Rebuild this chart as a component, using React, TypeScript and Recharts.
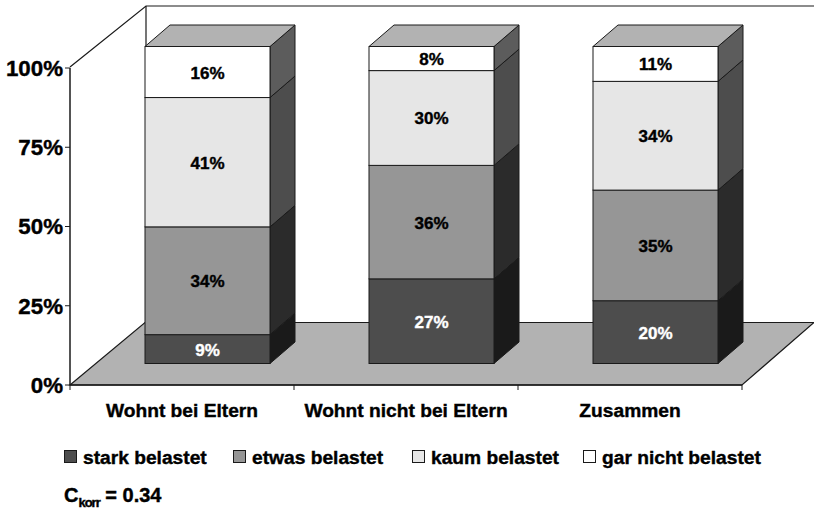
import { BarChart, Bar, XAxis, YAxis, Legend, LabelList } from 'recharts';

const CATEGORIES = ['Wohnt bei Eltern', 'Wohnt nicht bei Eltern', 'Zusammen'];
const STARK = [9.1, 26.7, 19.8];
const ETWAS = [34, 35.8, 34.9];
const KAUM = [40.8, 29.9, 34.3];
const GAR = [16.1, 7.6, 11];
const Y_TICKS = [0, 25, 50, 75, 100];
const SERIES_NAMES = ['stark belastet', 'etwas belastet', 'kaum belastet', 'gar nicht belastet'];
const FRONT_COLORS = ['#4d4d4d', '#969696', '#e6e6e6', '#ffffff'];
const SIDE_COLORS = ['#1a1a1a', '#2b2b2b', '#4d4d4d', '#5c5c5c'];

const tableData = CATEGORIES.map((name, i) => ({
    name,
    stark: STARK[i],
    etwas: ETWAS[i],
    kaum: KAUM[i],
    gar: GAR[i],
}));

const FONT = '"Liberation Sans", Arial, sans-serif';
const LINE = '#1a1a1a';
// 3D depth of the bars, Excel style
const DX = 25;
const DY = 21.5;
const LEGEND_X = [64, 233, 412, 583];

function Bar3D(props: any) {
    const { x, y, width, height, fill, side, isTop } = props;
    const r = x + DX + width;
    const fx = x + DX;
    const fy = y - DY;
    return (
        <g stroke={LINE} strokeWidth={1}>
            <polygon points={`${r},${fy} ${r + DX},${fy - DY} ${r + DX},${fy - DY + height} ${r},${fy + height}`} fill={side} />
            {isTop && (
                <polygon points={`${fx},${fy} ${fx + DX},${fy - DY} ${r + DX},${fy - DY} ${r},${fy}`} fill="#b2b2b2" />
            )}
            <rect x={fx} y={fy} width={width} height={height} fill={fill} />
        </g>
    );
}

function percentLabel(color: string) {
    return (props: any) => {
        const { x, y, width, height, value } = props;
        return (
            <text
                x={x + DX + width / 2}
                y={y - DY + height / 2 + 6.5}
                textAnchor="middle"
                fontFamily={FONT}
                fontWeight="bold"
                fontSize={17}
                fill={color}
                stroke={color}
                strokeWidth={0.4}
            >
                {Math.round(value)}%
            </text>
        );
    };
}

// tick marks sit between the categories, the label stays centred
function CategoryTick(props: any) {
    const { x, y, width, payload, index } = props;
    const band = width / CATEGORIES.length;
    const left = x - band / 2;
    const right = x + band / 2;
    return (
        <g>
            <line x1={left} y1={y} x2={left} y2={y + 5} stroke={LINE} />
            {index === CATEGORIES.length - 1 && <line x1={right} y1={y} x2={right} y2={y + 5} stroke={LINE} />}
            <text
                x={x}
                y={y + 32}
                textAnchor="middle"
                fontFamily={FONT}
                fontWeight="bold"
                fontSize={19.2}
                fill="#000"
                stroke="#000"
                strokeWidth={0.4}
            >
                {payload.value}
            </text>
        </g>
    );
}

function LegendRow(props: any) {
    const payload = [...props.payload].sort(
        (a: any, b: any) => SERIES_NAMES.indexOf(a.value) - SERIES_NAMES.indexOf(b.value)
    );
    return (
        <div style={{ position: 'relative', height: 24, width: 814 }}>
            {payload.map((entry: any, i: number) => (
                <div
                    key={entry.value}
                    style={{ position: 'absolute', left: LEGEND_X[i], top: 0, whiteSpace: 'nowrap', fontFamily: FONT, fontWeight: 'bold', fontSize: 19.2, lineHeight: '24px', color: '#000', WebkitTextStroke: '0.4px #000' }}
                >
                    <span style={{ display: 'inline-block', width: 11, height: 11, background: entry.color, border: `1px solid ${LINE}`, marginRight: 6, verticalAlign: '1px' }} />
                    {entry.value}
                </div>
            ))}
        </div>
    );
}

export default function App() {
    return (
        <div style={{ position: 'absolute', left: 0, top: 0, width: 814, height: 509, background: '#fff', overflow: 'hidden' }}>
            <BarChart
                width={814}
                height={509}
                data={tableData}
                margin={{ top: 68, right: 72, bottom: 0, left: 0 }}
                barSize={125}
            >
                {/* floor and walls */}
                <polygon points="70,385 145,322.5 814,322.5 742,385" fill="#b2b2b2" stroke={LINE} strokeWidth={1.2} />
                <polyline points="70,67 146,6 814,6" fill="none" stroke={LINE} strokeWidth={1.2} />
                <line x1={146} y1={6} x2={146} y2={322} stroke={LINE} strokeWidth={1.2} />

                <XAxis
                    dataKey="name"
                    height={100}
                    interval={0}
                    axisLine={{ stroke: LINE, strokeWidth: 1.5 }}
                    tickLine={false}
                    tickSize={0}
                    tickMargin={0}
                    tick={<CategoryTick />}
                />
                <YAxis
                    width={70}
                    type="number"
                    domain={[0, 100]}
                    ticks={Y_TICKS}
                    interval={0}
                    axisLine={{ stroke: LINE, strokeWidth: 1.5 }}
                    tickLine={{ stroke: LINE, strokeWidth: 1 }}
                    tickSize={5}
                    tickMargin={2}
                    tick={{ fontFamily: FONT, fontWeight: 'bold', fontSize: 22.3, fill: '#000', stroke: '#000', strokeWidth: 0.4 }}
                    tickFormatter={(v: number) => `${v}%`}
                />
                <Legend
                    verticalAlign="bottom"
                    content={<LegendRow />}
                    wrapperStyle={{ position: 'absolute', left: 0, top: 446, bottom: 'auto', width: 814 }}
                />
                {['stark', 'etwas', 'kaum', 'gar'].map((key, i) => (
                    <Bar
                        key={key}
                        dataKey={key}
                        name={SERIES_NAMES[i]}
                        stackId="a"
                        fill={FRONT_COLORS[i]}
                        isAnimationActive={false}
                        shape={<Bar3D side={SIDE_COLORS[i]} isTop={i === 3} />}
                    >
                        <LabelList dataKey={key} content={percentLabel(i === 0 ? '#ffffff' : '#000000')} />
                    </Bar>
                ))}
            </BarChart>
            <div style={{ position: 'absolute', left: 64, top: 484, fontFamily: FONT, fontWeight: 'bold', fontSize: 20, lineHeight: '22px', WebkitTextStroke: '0.4px #000' }}>
                C<sub style={{ fontSize: 13, lineHeight: 0, letterSpacing: -1 }}>korr</sub> = 0.34
            </div>
        </div>
    );
}
